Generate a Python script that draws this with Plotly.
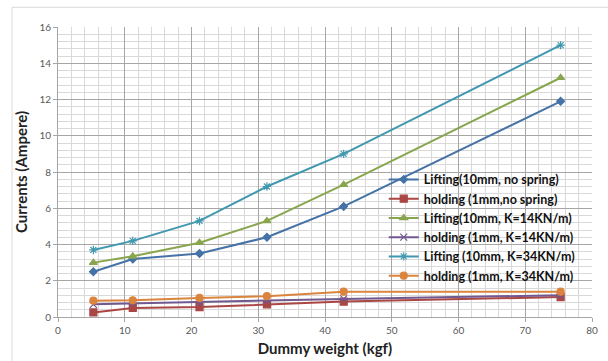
import plotly.graph_objects as go

weights = [5.3, 11.2, 21.2, 31.3, 42.8, 75.3]
names = [
    "Lifting(10mm, no spring)",
    "holding (1mm,no spring)",
    "Lifting(10mm, K=14KN/m)",
    "holding (1mm, K=14KN/m)",
    "Lifting (10mm, K=34KN/m)",
    "holding (1mm, K=34KN/m)",
]
lift_nospring = [2.5, 3.2, 3.5, 4.4, 6.1, 11.9]
hold_nospring = [0.25, 0.5, 0.55, 0.7, 0.85, 1.1]
lift_k14 = [3.0, 3.35, 4.1, 5.3, 7.3, 13.2]
hold_k14 = [0.7, 0.75, 0.8, 0.9, 1.0, 1.2]
lift_k34 = [3.7, 4.2, 5.3, 7.2, 9.0, 15.0]
hold_k34 = [0.9, 0.92, 1.05, 1.15, 1.4, 1.4]

series = [lift_nospring, hold_nospring, lift_k14, hold_k14, lift_k34, hold_k34]
colors = ["#4572A7", "#AA4643", "#89A54E", "#71588F", "#4198AF", "#DB843D"]
symbols = ["diamond", "square", "triangle-up", "x-thin-open", "asterisk-open", "circle"]
sizes = [6, 7, 7, 7, 7, 7]

fig = go.Figure()
for nm, ys, c, s, sz in zip(names, series, colors, symbols, sizes):
    fig.add_trace(go.Scatter(
        x=weights, y=ys, name=nm, mode="lines+markers",
        line=dict(color=c, width=2),
        marker=dict(symbol=s, size=sz, color=c, line=dict(color=c, width=1.2)),
    ))

font = "Lato, 'Open Sans', sans-serif"
fig.update_layout(
    width=608, height=361,
    margin=dict(l=58, r=16, t=27, b=44, autoexpand=False),
    paper_bgcolor="white", plot_bgcolor="white",
    font=dict(family=font, color="#222"),
    showlegend=True,
    legend=dict(
        x=0.61, y=0.525, xanchor="left", yanchor="top",
        bgcolor="rgba(0,0,0,0)", borderwidth=0,
        font=dict(size=12.5, color="#111", family=font, weight="bold"),
        tracegroupgap=0, itemwidth=30,
    ),
    shapes=[dict(type="rect", xref="paper", yref="paper",
                 x0=-46/534, x1=1.05, y0=-0.2, y1=(316.7 - 7) / 290,
                 line=dict(color="#D9D9D9", width=1), layer="below")],
)
fig.update_xaxes(
    range=[0, 80], dtick=10, tick0=0, automargin=False,
    showgrid=True, gridcolor="#A6A6A6", gridwidth=1,
    minor=dict(dtick=2, showgrid=True, gridcolor="#D9D9D9", gridwidth=1),
    showline=True, linecolor="#A6A6A6", linewidth=1,
    ticks="outside", ticklen=4, tickcolor="#A6A6A6",
    tickfont=dict(size=10, color="#595959"),
    title=dict(text="<b>Dummy weight (kgf)</b>", font=dict(size=15, color="#222"), standoff=8),
    zeroline=False, mirror=False,
)
fig.update_yaxes(
    range=[0, 16], dtick=2, tick0=0, automargin=False,
    showgrid=True, gridcolor="#A6A6A6", gridwidth=1,
    minor=dict(dtick=0.4, showgrid=True, gridcolor="#D9D9D9", gridwidth=1),
    showline=True, linecolor="#A6A6A6", linewidth=1,
    ticks="outside", ticklen=4, tickcolor="#A6A6A6",
    tickfont=dict(size=10, color="#595959"),
    title=dict(text="<b>Currents (Ampere)</b>", font=dict(size=15, color="#222"), standoff=8),
    zeroline=False,
)

fig.write_html("out.html", config={"displayModeBar": False},
               post_script="document.body.style.margin='0';")
